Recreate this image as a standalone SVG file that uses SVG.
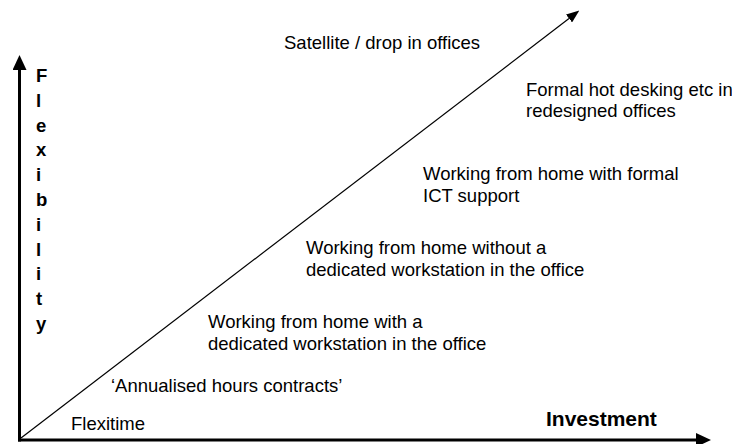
<svg xmlns="http://www.w3.org/2000/svg" width="732" height="444" viewBox="0 0 732 444">
  <style>
    .lbl { font-family: "Liberation Sans", Arial, sans-serif; font-size: 18.5px; fill: #000; }
    .axis-lbl { font-family: "Liberation Sans", Arial, sans-serif; font-weight: bold; fill: #000; }
    .axis { stroke: #000; stroke-width: 3; fill: none; }
    .trend { stroke: #000; stroke-width: 1.2; fill: none; }
  </style>
  <defs>
    <marker id="axisHead" markerUnits="userSpaceOnUse" markerWidth="16" markerHeight="14" refX="0" refY="7" orient="auto" viewBox="0 0 16 14">
      <polygon points="0,0 15,7 0,14" fill="#000"/>
    </marker>
    <marker id="trendHead" markerUnits="userSpaceOnUse" markerWidth="13" markerHeight="10" refX="0" refY="5" orient="auto" viewBox="0 0 13 10">
      <polygon points="0,0 13,5 0,10" fill="#000"/>
    </marker>
  </defs>
  <rect width="732" height="444" fill="#fff"/>

  <!-- axes and growth line -->
  <g id="connectors">
    <line class="axis" x1="19.5" y1="441.5" x2="19.5" y2="70" marker-end="url(#axisHead)"/>
    <line class="axis" x1="18" y1="440" x2="696" y2="440" marker-end="url(#axisHead)"/>
    <line class="trend" x1="21" y1="438" x2="569" y2="18.5" marker-end="url(#trendHead)"/>
  </g>

  <!-- vertical axis title, one letter per line -->
  <g id="flexibility-axis">
    <text class="axis-lbl" font-size="18.5" x="36">
      <tspan x="36" y="82">F</tspan>
      <tspan x="36" y="106.8">l</tspan>
      <tspan x="36" y="131.6">e</tspan>
      <tspan x="36" y="156.4">x</tspan>
      <tspan x="36" y="181.2">i</tspan>
      <tspan x="36" y="206">b</tspan>
      <tspan x="36" y="230.8">i</tspan>
      <tspan x="36" y="255.6">l</tspan>
      <tspan x="36" y="280.4">i</tspan>
      <tspan x="36" y="305.2">t</tspan>
      <tspan x="36" y="330">y</tspan>
    </text>
  </g>

  <g id="investment-axis">
    <text class="axis-lbl" font-size="21" x="546" y="426">Investment</text>
  </g>

  <!-- arrangements, from least to most flexible -->
  <g id="flexitime">
    <text class="lbl" x="71" y="430">Flexitime</text>
  </g>
  <g id="annualised-hours">
    <text class="lbl" x="111" y="392">‘Annualised hours contracts’</text>
  </g>
  <g id="home-with-workstation">
    <text class="lbl" x="208" y="328">Working from home with a</text>
    <text class="lbl" x="208" y="350">dedicated workstation in the office</text>
  </g>
  <g id="home-without-workstation">
    <text class="lbl" x="306" y="254">Working from home without a</text>
    <text class="lbl" x="306" y="276">dedicated workstation in the office</text>
  </g>
  <g id="home-ict-support">
    <text class="lbl" x="423" y="180">Working from home with formal</text>
    <text class="lbl" x="423" y="202">ICT support</text>
  </g>
  <g id="hot-desking">
    <text class="lbl" x="526" y="95.5">Formal hot desking etc in</text>
    <text class="lbl" x="526" y="117">redesigned offices</text>
  </g>
  <g id="satellite-offices">
    <text class="lbl" x="284" y="49">Satellite / drop in offices</text>
  </g>
</svg>
